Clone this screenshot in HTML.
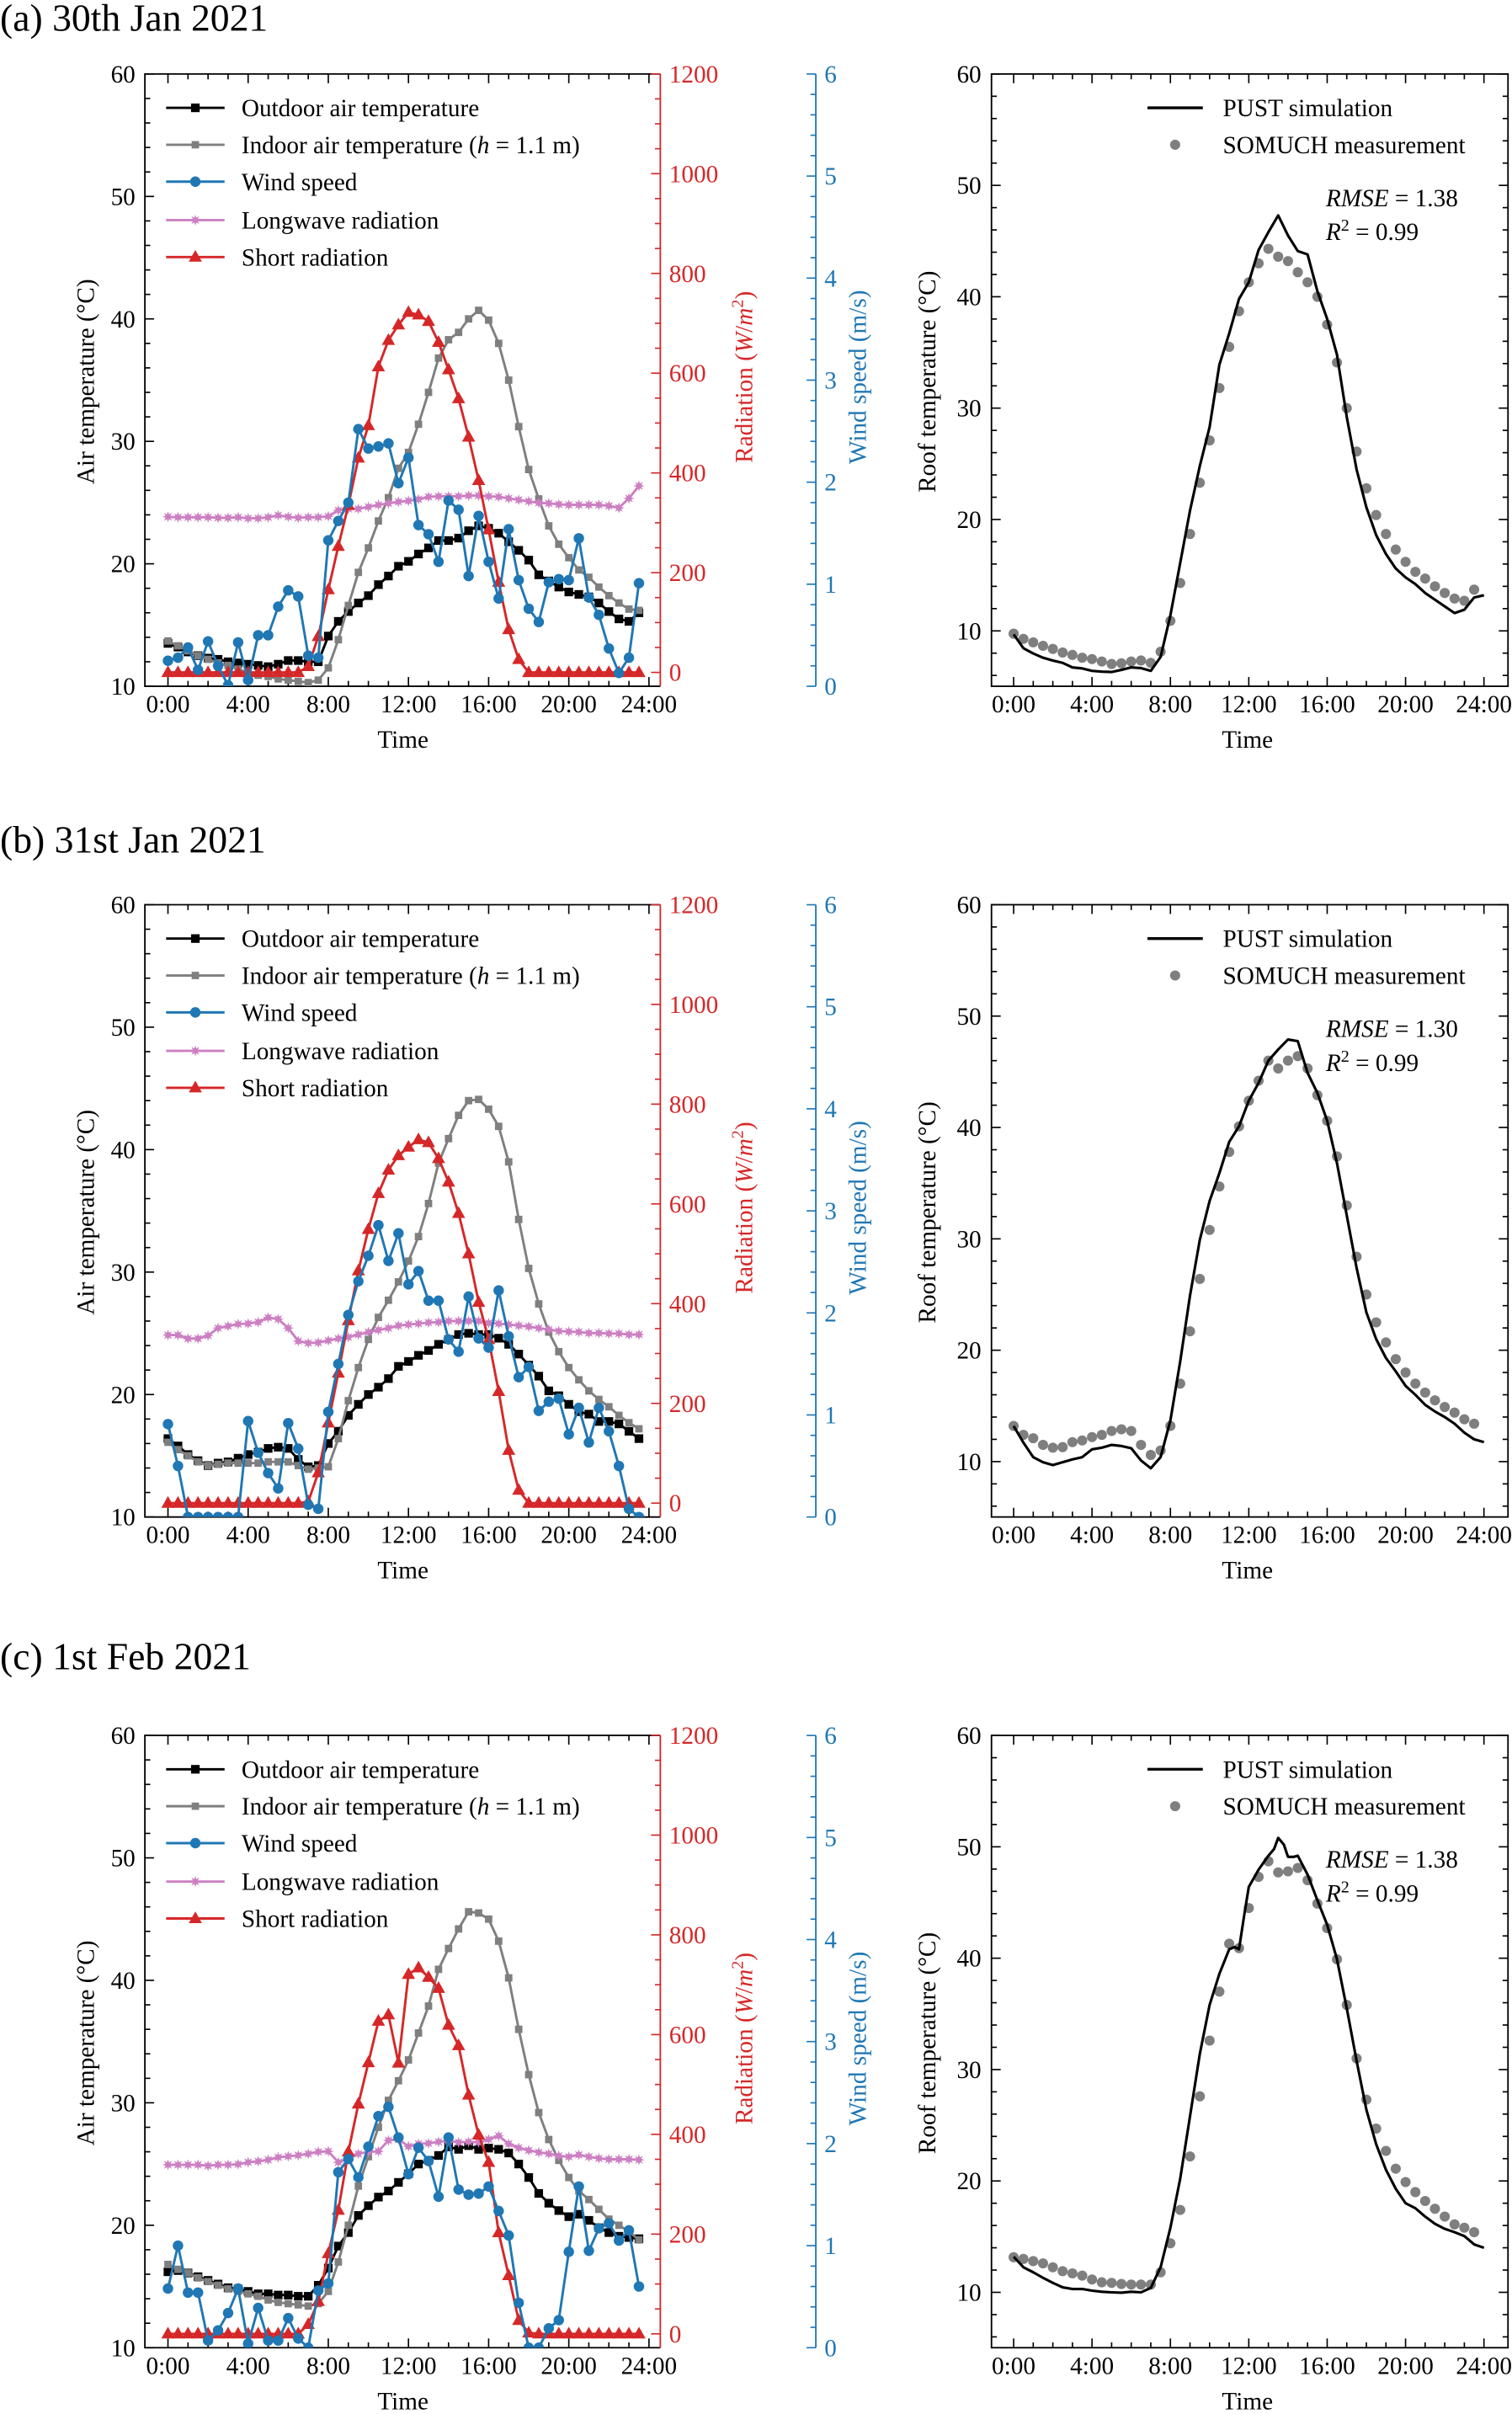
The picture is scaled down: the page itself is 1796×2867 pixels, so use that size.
<!DOCTYPE html>
<html><head><meta charset="utf-8"><title>Thermal measurements Jan-Feb 2021</title>
<style>
html,body{margin:0;padding:0;background:#fff;}
svg{display:block;}
text{font-family:"Liberation Serif","DejaVu Serif",serif;}
</style></head>
<body>
<svg id="fig" xmlns="http://www.w3.org/2000/svg" width="1796" height="2867" viewBox="0 0 983 1569"></svg>
<script>
// ---------- data (half-hourly, 0:00 .. 23:30) ----------
const tickHoursLeft = [0,4,8,12,16,20,24];
const xTickLabels = ["0:00","4:00","8:00","12:00","16:00","20:00","24:00"];
const tempTicks = [10,20,30,40,50,60];
const radTicks = [0,200,400,600,800,1000,1200];
const windTicks = [0,1,2,3,4,5,6];
const roofTicks = [10,20,30,40,50,60];
const seriesNames = ["Outdoor air temperature","Indoor air temperature","Wind speed","Longwave radiation","Short radiation"];

const outdoorA = [13.5,13.2,12.8,12.5,12.3,12.2,12.0,11.9,11.8,11.7,11.6,11.8,12.1,12.1,12.0,12.0,14.1,15.3,16.1,16.8,17.4,18.3,19.0,19.8,20.2,20.8,21.3,21.9,21.9,22.1,22.7,23.1,22.9,22.5,21.8,21.1,20.3,19.1,18.6,18.1,17.7,17.5,17.3,16.8,16.1,15.5,15.3,16.0];
const indoorA = [13.7,13.3,12.9,12.5,12.2,11.9,11.7,11.4,11.1,10.9,10.8,10.6,10.5,10.4,10.3,10.5,11.5,13.8,16.6,19.3,21.3,23.5,25.4,27.8,29.1,31.4,34.0,36.8,38.3,38.9,40.0,40.7,39.9,38.0,35.0,31.2,27.7,25.3,23.1,21.6,20.5,19.5,18.9,18.1,17.4,16.8,16.3,16.2];
const windA = [0.25,0.28,0.38,0.16,0.44,0.20,0.01,0.43,0.06,0.50,0.50,0.78,0.94,0.88,0.30,0.28,1.43,1.62,1.80,2.52,2.33,2.35,2.38,1.99,2.24,1.58,1.49,1.22,1.82,1.73,1.08,1.67,1.22,0.86,1.54,1.04,0.76,0.63,1.02,1.05,1.04,1.45,0.87,0.70,0.37,0.13,0.28,1.01];
const longwaveA = [312,311,311,311,311,310,310,311,309,309,311,315,312,310,311,311,313,325,328,328,332,336,339,342,344,347,352,353,353,353,354.5,354.5,353,352,349,346,343,340,339,337,336,336,336,336,334,330,349,374];
const shortA = [0,0,0,0,0,0,0,0,0,0,0,0,0,0,12,72,166,253,335,430,495,613,666,697,722,717,704,662,607,549,472,385,286,181,86,26,0,0,0,0,0,0,0,0,0,0,0,0];
const measA = [9.75,9.28,8.97,8.66,8.38,8.06,7.84,7.59,7.47,7.25,7.03,7.09,7.25,7.34,7.13,8.13,10.9,14.3,18.7,23.3,27.1,31.8,35.5,38.7,41.3,43.0,44.3,43.6,43.2,42.2,41.3,40.0,37.5,34.1,30.0,26.1,22.8,20.4,18.7,17.3,16.2,15.3,14.7,14.0,13.4,12.9,12.7,13.7];
const simA = [9.69,8.44,7.97,7.59,7.34,7.13,6.72,6.63,6.41,6.34,6.31,6.50,6.72,6.66,6.41,7.66,11.4,16.1,20.8,24.8,28.3,33.9,36.7,39.8,41.3,44.2,45.8,47.3,45.5,44.1,43.8,40.5,38.0,34.8,29.2,24.5,21.1,18.6,16.9,15.6,14.8,14.2,13.4,12.8,12.2,11.6,11.9,13.0,13.2];

const outdoorB = [16.4,15.8,15.1,14.6,14.2,14.4,14.5,14.8,15.1,15.3,15.6,15.7,15.6,14.7,14.1,14.2,16.0,17.0,18.3,19.2,20.0,20.6,21.3,22.3,22.7,23.2,23.6,24.1,24.5,24.9,25.0,24.9,24.9,24.6,24.1,23.3,22.4,21.5,20.3,19.9,19.2,18.6,18.4,17.8,17.8,17.6,17.0,16.4];
const indoorB = [16.1,15.5,15.0,14.5,14.2,14.3,14.4,14.4,14.4,14.4,14.5,14.5,14.5,14.2,13.9,14.0,14.1,16.4,19.5,22.2,24.5,26.3,27.7,29.2,30.9,32.9,35.6,38.9,40.9,42.8,44.0,44.1,43.3,41.9,39.0,34.3,30.3,27.4,25.1,23.5,22.2,21.2,20.3,19.6,19.0,18.3,17.7,17.2];
const windB = [0.91,0.50,0,0,0,0,0,0,0.94,0.63,0.43,0.28,0.92,0.67,0.12,0.08,1.03,1.50,1.98,2.31,2.56,2.86,2.51,2.78,2.28,2.41,2.12,2.12,1.74,1.62,2.16,1.75,1.66,2.22,1.77,1.37,1.47,1.04,1.13,1.16,0.81,1.07,0.73,1.07,0.84,0.50,0.08,0];
const longwaveB = [337,337,330,330,336,351,355,359,360,363,372,369,351,325,321,322,326,330,333,338,343,347,351,356,358,360,362,363,365,365,365,365,361,360,358,356,354,351,348,345,344,343,341,341,340,340,338,338];
const shortB = [0,0,0,0,0,0,0,0,0,0,0,0,0,0,3,61,161,261,366,466,549,621,668,697,714,729,723,691,644,581,500,403,328,224,106,26,0,0,0,0,0,0,0,0,0,0,0,0];
const measB = [13.2,12.4,12.1,11.5,11.25,11.3,11.75,11.9,12.2,12.4,12.75,12.9,12.75,11.5,10.6,11.0,13.2,17.0,21.7,26.4,30.8,34.7,37.8,40.1,42.4,44.2,46.0,45.3,46.0,46.4,45.3,42.9,40.6,37.4,33.0,28.4,25.0,22.5,20.7,19.2,18.0,17.0,16.2,15.5,14.9,14.4,13.8,13.4];
const simB = [13.2,11.7,10.4,9.94,9.69,9.94,10.2,10.4,11.1,11.25,11.5,11.4,11.2,10.1,9.4,10.4,13.7,19.0,24.9,29.9,33.4,35.9,38.7,40.1,42.4,44.0,46.0,47.0,47.9,47.75,44.9,43.1,40.6,36.8,32.1,27.4,23.4,21.0,19.3,18.1,16.8,16.0,15.1,14.5,14.0,13.4,12.6,12.0,11.75];

const outdoorC = [16.2,16.3,16.1,15.8,15.5,15.2,14.9,14.8,14.6,14.4,14.4,14.3,14.3,14.2,14.2,15.1,16.5,18.3,19.4,20.8,21.6,22.3,22.8,23.5,24.2,25.0,25.3,25.7,26.4,26.2,26.5,26.2,26.3,26.2,25.9,25.0,23.9,22.6,21.8,21.2,20.7,20.9,20.4,19.8,19.4,19.1,19.0,18.9];
const indoorC = [16.8,16.4,16.1,15.7,15.4,15.1,14.8,14.6,14.4,14.2,13.9,13.7,13.6,13.5,13.4,13.6,14.6,17.0,20.0,23.2,25.6,28.0,30.2,31.8,33.5,35.7,37.9,40.9,42.6,44.2,45.6,45.5,45.0,43.2,40.2,36.0,32.3,29.2,27.0,25.3,23.9,22.8,22.1,21.3,20.5,20.0,19.5,18.8];
const windC = [0.58,1.00,0.54,0.54,0.07,0.17,0.34,0.58,0.04,0.39,0.07,0.07,0.29,0.09,0,0.56,0.63,1.72,1.85,1.67,1.97,2.27,2.36,2.06,1.70,1.96,1.83,1.48,2.06,1.55,1.50,1.51,1.58,1.34,1.10,0.44,0,0,0.19,0.27,0.94,1.58,0.95,1.17,1.22,1.05,1.15,0.60];
const longwaveC = [339,339,339,339,337,339,339,340,344,346,349,354,356,358,361,365,366,344,352,361,365,366,388,390,376,381,382,385,387,384,385,384,390,397,381,373,368,364,361,357,355,359,355,352,350,350,350,349];
const shortC = [0,0,0,0,0,0,0,0,0,0,0,0,0,0,19,65,161,248,365,461,544,627,640,543,721,734,715,693,619,578,479,399,344,203,117,27,2,0,0,0,0,0,0,0,0,0,0,0];
const measC = [13.15,13.0,12.8,12.6,12.25,11.9,11.7,11.5,11.15,10.9,10.85,10.75,10.7,10.7,10.7,11.8,14.4,17.4,22.2,27.6,32.6,37.0,41.3,40.9,44.5,47.3,48.7,47.7,47.8,48.1,47.0,44.9,42.7,39.9,35.8,31.0,27.3,24.7,22.7,21.1,19.9,19.0,18.2,17.5,16.8,16.1,15.8,15.4];
const simTimeC = [0,0.5,1,1.5,2,2.5,3,3.5,4,4.5,5,5.5,6,6.5,7,7.5,8,8.5,9,9.5,10,10.5,11,11.27,11.5,11.77,12,12.5,13,13.29,13.5,13.79,14,14.3,14.5,15,15.5,16,16.5,17,17.5,18,18.5,19,19.5,20,20.5,21,21.5,22,22.5,23,23.5,24];
const simC = [13.2,12.25,11.8,11.3,10.85,10.45,10.3,10.3,10.15,10.05,10.0,9.97,10.05,10.0,10.4,12.25,15.8,20.2,25.8,31.4,35.8,38.6,40.8,41.0,40.8,43.9,46.4,47.95,49.2,49.8,50.8,50.2,49.1,49.1,49.2,47.5,45.2,43.0,39.9,35.5,30.8,26.4,23.3,21.0,19.3,18.0,17.55,16.8,16.15,15.7,15.4,15.05,14.3,14.0];

const rmseValues = ["1.38","1.30","1.38"];
const panelTitles = ["(a) 30th Jan 2021","(b) 31st Jan 2021","(c) 1st Feb 2021"];

// ---------- drawing ----------
const NS = "http://www.w3.org/2000/svg";
const svg = document.getElementById("fig");
const RED = "#d62728", BLUE = "#1f77b4", GRAY = "#7f7f7f", PINK = "#cc7fc2";
const BOT = 446;
function mk(tag, parent){ const e = document.createElementNS(NS, tag); (parent||svg).appendChild(e); return e; }
function geo(e, o){ for (const k in o) e.setAttribute(k, o[k]); return e; }
function txt(parent, x, y, s, size, anchor, fill){
  const t = mk("text", parent);
  geo(t, {x:x, y:y, "font-size":size, "text-anchor":anchor||"start", fill:fill||"#000"});
  t.textContent = s;
  return t;
}
const halfHours = [];
for (let i = 0; i < 48; i++) halfHours.push(i * 0.5);
const simHours = [];
for (let i = 0; i <= 48; i++) simHours.push(i * 0.5);

function marker(g, kind, x, y, color){
  let m;
  if (kind === "square" || kind === "squareS") {
    const s = kind === "square" ? 5.6 : 4.8;
    m = mk("rect", g); geo(m, {x:x-s/2, y:y-s/2, width:s, height:s, fill:color});
  } else if (kind === "circle") {
    m = mk("circle", g); geo(m, {cx:x, cy:y, r:3.4, fill:color});
  } else if (kind === "tri") {
    m = mk("polygon", g); geo(m, {points:(x)+","+(y-4.6)+" "+(x-4.3)+","+(y+3)+" "+(x+4.3)+","+(y+3), fill:color});
  } else if (kind === "star") {
    let pts = [];
    for (let k = 0; k < 16; k++) { const a = Math.PI*k/8, r = k%2 ? 1.7 : 3.6; pts.push((x+r*Math.sin(a)).toFixed(2)+","+(y-r*Math.cos(a)).toFixed(2)); }
    m = mk("polygon", g); geo(m, {points:pts.join(" "), fill:color});
  }
  return m;
}
function series(g, xs, vals, xf, yf, color, kind, name){
  const sg = mk("g", g);
  
  
  const pl = mk("polyline", sg);
  geo(pl, {points: vals.map((v,i)=>xf(xs[i]).toFixed(2)+","+yf(v).toFixed(2)).join(" "), fill:"none", stroke:color, "stroke-width":1.6, "stroke-linejoin":"round"});
  
  
  vals.forEach((v,i)=>{
    const m = marker(sg, kind, xf(xs[i]), yf(v), color);
    
    
  });
}
function tickLine(g, x1, y1, x2, y2, color){
  const l = mk("line", g);
  geo(l, {x1:x1, y1:y1, x2:x2, y2:y2, stroke:color||"#000", "stroke-width":0.9});
  return l;
}

function drawPanel(p, off, D){
  const g = mk("g");
  
  

  const title = txt(g, 0, D.titleY, panelTitles[D.idx], 25);
  
  

  // ===== left chart =====
  const L = {x0:94.2, x1:429.3, y0:48+off, y1:BOT+off};
  const xL = h => 109.2 + h*13.03;
  const yT = t => off + BOT - (t-10)*7.96;
  const yR = r => off + 437 - r*0.3242;
  const yW = w => off + BOT - w*66.33;

  const lg = mk("g", g);
  
  

  const cp = mk("clipPath", lg); cp.setAttribute("id", "clipL" + p);
  const cr = mk("rect", cp); geo(cr, {x:L.x0, y:L.y0, width:L.x1-L.x0, height:L.y1-L.y0});

  const frame = mk("path", lg);
  geo(frame, {d:`M${L.x1},${L.y0} L${L.x0},${L.y0} L${L.x0},${L.y1} L${L.x1},${L.y1}`, fill:"none", stroke:"#000", "stroke-width":1});
  
  
  const rsp = mk("line", lg);
  geo(rsp, {x1:L.x1, y1:L.y0, x2:L.x1, y2:L.y1, stroke:RED, "stroke-width":1});
  
  

  for (let h = 0; h <= 24; h++) {
    const len = h % 4 === 0 ? 6 : 3.5;
    tickLine(lg, xL(h), L.y1, xL(h), L.y1-len);
    tickLine(lg, xL(h), L.y0, xL(h), L.y0+len);
  }
  tickHoursLeft.forEach((h,i)=>{
    const t = txt(lg, xL(h), off+BOT+17, xTickLabels[i], 16, "middle");
    
    
  });
  for (let v = 10; v <= 60; v += 2) {
    tickLine(lg, L.x0, yT(v), L.x0 + (v % 10 === 0 ? 6 : 3.5), yT(v));
  }
  tempTicks.forEach(v=>{
    const t = txt(lg, 88, yT(v)+5.5, String(v), 16, "end");
    
    
  });
  for (let v = 0; v <= 1200; v += 50) {
    tickLine(lg, L.x1, yR(v), L.x1 - (v % 200 === 0 ? 6 : 3.5), yR(v), RED);
  }
  radTicks.forEach(v=>{
    const t = txt(lg, 435, yR(v)+5.5, String(v), 16, "start", RED);
    
    
  });
  const wsp = mk("line", lg);
  geo(wsp, {x1:530.4, y1:L.y0, x2:530.4, y2:L.y1, stroke:BLUE, "stroke-width":1});
  
  
  for (let k = 0; k <= 30; k++) {
    const v = k * 0.2;
    tickLine(lg, 530.4, yW(v), 530.4 - (k % 5 === 0 ? 6 : 3.5), yW(v), BLUE);
  }
  windTicks.forEach(v=>{
    const t = txt(lg, 536, yW(v)+5.5, String(v), 16, "start", BLUE);
    
    
  });

  const at = txt(lg, 0, 0, "Air temperature (°C)", 16, "middle");
  at.setAttribute("transform", `translate(61,${off+248}) rotate(-90)`);
  
  
  const rt = mk("text", lg);
  geo(rt, {"font-size":16, "text-anchor":"middle", fill:RED, transform:`translate(489,${off+245}) rotate(-90)`});
  rt.innerHTML = 'Radiation (<tspan font-style="italic">W</tspan>/<tspan font-style="italic">m</tspan><tspan font-size="11" dy="-6">2</tspan><tspan dy="6">)</tspan>';
  
  
  const wt = txt(lg, 0, 0, "Wind speed (m/s)", 16, "middle", BLUE);
  wt.setAttribute("transform", `translate(563,${off+245}) rotate(-90)`);
  
  
  const tt = txt(lg, 262, off+BOT+40, "Time", 16, "middle");
  
  

  const sg = mk("g", lg);
  sg.setAttribute("clip-path", "url(#clipL" + p + ")");
  
  
  series(sg, halfHours, D.outdoor, xL, yT, "#000", "square", "outdoor-temperature-series");
  series(sg, halfHours, D.indoor, xL, yT, GRAY, "squareS", "indoor-temperature-series");
  series(sg, halfHours, D.lw, xL, yR, PINK, "star", "longwave-radiation-series");
  series(sg, halfHours, D.sw, xL, yR, RED, "tri", "short-radiation-series");
  series(sg, halfHours, D.wind, xL, yW, BLUE, "circle", "wind-speed-series");

  const leg = mk("g", lg);
  
  
  const legY = [70,94,118,143,167];
  const legCol = ["#000", GRAY, BLUE, PINK, RED];
  const legKind = ["square","squareS","circle","star","tri"];
  legY.forEach((yy,i)=>{
    const e = mk("g", leg);
    
    
    const ln = mk("line", e);
    geo(ln, {x1:108, y1:off+yy, x2:146, y2:off+yy, stroke:legCol[i], "stroke-width":1.6});
    marker(e, legKind[i], 127, off+yy, legCol[i]);
    const t = mk("text", e);
    geo(t, {x:157, y:off+yy+5.5, "font-size":16});
    if (i === 1) t.innerHTML = 'Indoor air temperature (<tspan font-style="italic">h</tspan> = 1.1 m)';
    else t.textContent = seriesNames[i];
  });

  // ===== right chart =====
  const R = {x0:644.6, x1:980.4, y0:48+off, y1:BOT+off};
  const xR = h => 659 + h*12.74;
  const yRT = t => off + 410 - (t-10)*7.24;
  const rg = mk("g", g);
  
  
  const rf = mk("rect", rg);
  geo(rf, {x:R.x0, y:R.y0, width:R.x1-R.x0, height:R.y1-R.y0, fill:"none", stroke:"#000", "stroke-width":1});
  
  
  for (let h = 0; h <= 24; h++) {
    const len = h % 4 === 0 ? 6 : 3.5;
    tickLine(rg, xR(h), R.y1, xR(h), R.y1-len);
    tickLine(rg, xR(h), R.y0, xR(h), R.y0+len);
  }
  for (let v = 6; v <= 60; v += 2) {
    const len = v % 10 === 0 ? 6 : 3.5;
    tickLine(rg, R.x0, yRT(v), R.x0+len, yRT(v));
    tickLine(rg, R.x1, yRT(v), R.x1-len, yRT(v));
  }
  tickHoursLeft.forEach((h,i)=>{
    const t = txt(rg, xR(h), off+BOT+17, xTickLabels[i], 16, "middle");
    
    
  });
  roofTicks.forEach(v=>{
    const t = txt(rg, 638, yRT(v)+5.5, String(v), 16, "end");
    
    
  });
  const ry = txt(rg, 0, 0, "Roof temperature (°C)", 16, "middle");
  ry.setAttribute("transform", `translate(608,${off+248}) rotate(-90)`);
  
  
  const rtt = txt(rg, 811, off+BOT+40, "Time", 16, "middle");
  
  

  const mg = mk("g", rg);
  
  
  D.meas.forEach((v,i)=>{
    const c = mk("circle", mg);
    geo(c, {cx:xR(halfHours[i]), cy:yRT(v), r:3.3, fill:GRAY});
    
    
  });
  const sl = mk("polyline", rg);
  geo(sl, {points: D.sim.map((v,i)=>xR(D.simT[i]).toFixed(2)+","+yRT(v).toFixed(2)).join(" "), fill:"none", stroke:"#000", "stroke-width":1.7, "stroke-linejoin":"round"});
  
  

  const rl = mk("g", rg);
  
  
  const l1 = mk("line", rl);
  geo(l1, {x1:746, y1:off+70, x2:782, y2:off+70, stroke:"#000", "stroke-width":1.8});
  
  
  txt(rl, 795, off+75.5, "PUST simulation", 16);
  const d1 = mk("circle", rl);
  geo(d1, {cx:764, cy:off+94, r:3.3, fill:GRAY});
  
  
  txt(rl, 795, off+99.5, "SOMUCH measurement", 16);

  const st = mk("text", rg);
  geo(st, {x:862, y:off+134, "font-size":16});
  st.innerHTML = '<tspan font-style="italic">RMSE</tspan> = ' + rmseValues[D.idx];
  
  
  const r2 = mk("text", rg);
  geo(r2, {x:862, y:off+156, "font-size":16});
  r2.innerHTML = '<tspan font-style="italic">R</tspan><tspan font-size="11" dy="-6">2</tspan><tspan dy="6"> = 0.99</tspan>';
  
  
}

drawPanel("a", 0, {idx:0, titleY:20, outdoor:outdoorA, indoor:indoorA, wind:windA, lw:longwaveA, sw:shortA, meas:measA, sim:simA, simT:simHours});
drawPanel("b", 540, {idx:1, titleY:554, outdoor:outdoorB, indoor:indoorB, wind:windB, lw:longwaveB, sw:shortB, meas:measB, sim:simB, simT:simHours});
drawPanel("c", 1080, {idx:2, titleY:1085, outdoor:outdoorC, indoor:indoorC, wind:windC, lw:longwaveC, sw:shortC, meas:measC, sim:simC, simT:simTimeC});
</script>
</body></html>
